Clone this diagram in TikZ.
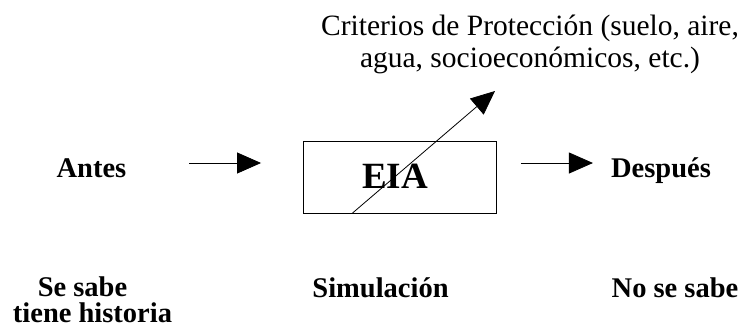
\documentclass[tikz,border=0pt]{standalone}
\usepackage{fontspec}
\setmainfont{Liberation Serif}
\usetikzlibrary{arrows.meta}
\begin{document}
\begin{tikzpicture}[x=1pt,y=-1pt,
  lbl/.style={font=\fontsize{28.5}{32}\selectfont\bfseries, inner sep=0pt, anchor=base},
  arr/.style={line width=0.8pt, -{Triangle[length=24pt,width=21pt]}},
  boxst/.style={draw, line width=0.9pt, minimum width=193pt, minimum height=72pt, inner sep=0pt}]
\useasboundingbox (0,0) rectangle (742,330);
\node[boxst] (box) at (400,177) {};
\node[lbl, font=\fontsize{37}{40}\selectfont\bfseries] (eia) at (395,188) {EIA};
\node[lbl] (antes) at (91.5,177) {Antes};
\node[lbl] (despues) at (661,177) {Después};
\node[font=\fontsize{29.5}{32}\selectfont, align=center, inner sep=0pt] (crit) at (530,44) {Criterios de Protección (suelo, aire,\\agua, socioeconómicos, etc.)};
\node[lbl] (sesabe) at (82.5,296) {Se sabe};
\node[lbl] (historia) at (92.5,322) {tiene historia};
\node[lbl] (sim) at (380.5,297) {Simulación};
\node[lbl] (nosabe) at (675,297) {No se sabe};
\coordinate (tip) at (495,91);
\coordinate (a1) at (0,163);
\draw[arr] ([xshift=-114pt]box.west |- a1) -- ([xshift=-42pt]box.west |- a1);
\draw[arr] ([xshift=24pt]box.east |- a1) -- ([xshift=96pt]box.east |- a1);
\draw[arr] ([xshift=49pt]box.south west) -- (tip);
\end{tikzpicture}
\end{document}
